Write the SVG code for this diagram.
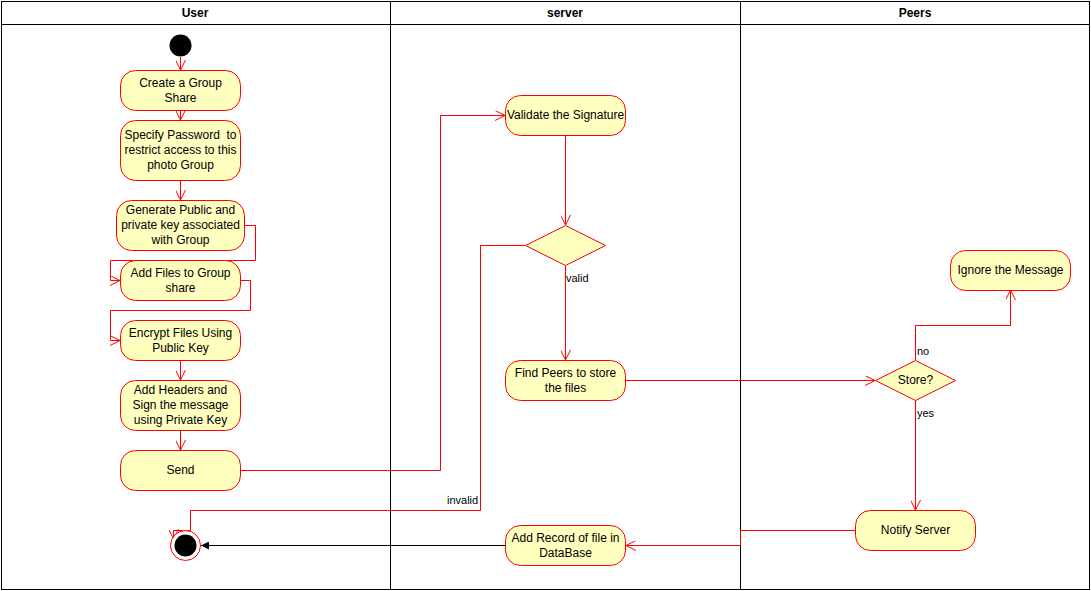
<svg xmlns="http://www.w3.org/2000/svg" width="1091" height="591" viewBox="0 0 1091 591">
  <style>
    .lane { fill: none; stroke: #000; stroke-width: 1; }
    .hdr { font-family: "Liberation Sans", Arial, sans-serif; font-size: 12px; font-weight: bold; fill: #000; text-anchor: middle; }
    .act { fill: #FFFFC0; stroke: #FF0000; stroke-width: 1; }
    .lbl { font-family: "Liberation Sans", Arial, sans-serif; font-size: 12px; fill: #000; text-anchor: middle; white-space: pre; }
    .elbl { font-family: "Liberation Sans", Arial, sans-serif; font-size: 11px; fill: #000; }
    .flow { fill: none; stroke: #FF0000; stroke-width: 1; marker-end: url(#open); }
    .flowk { fill: none; stroke: #000; stroke-width: 1; marker-end: url(#block); }
  </style>
  <defs>
    <marker id="open" viewBox="0 0 10 10" refX="10" refY="5" markerWidth="10" markerHeight="10" markerUnits="userSpaceOnUse" orient="auto">
      <path d="M0,0 L10,5 L0,10" fill="none" stroke="#FF0000" stroke-width="1"/>
    </marker>
    <marker id="block" viewBox="0 0 8 8" refX="8" refY="4" markerWidth="8" markerHeight="8" markerUnits="userSpaceOnUse" orient="auto">
      <path d="M0,0 L8,4 L0,8 Z" fill="#000"/>
    </marker>
  </defs>

  <rect width="1091" height="591" fill="#fff"/>

  <!-- swimlanes -->
  <g id="lanes">
    <rect class="lane" x="1.5" y="1.5" width="1088" height="588"/>
    <line class="lane" x1="1.5" y1="24.5" x2="1089.5" y2="24.5"/>
    <line class="lane" x1="390.5" y1="1.5" x2="390.5" y2="589.5"/>
    <line class="lane" x1="740.5" y1="1.5" x2="740.5" y2="589.5"/>
    <text class="hdr" x="195" y="17">User</text>
    <text class="hdr" x="565" y="17">server</text>
    <text class="hdr" x="915" y="17">Peers</text>
  </g>

  <!-- connectors -->
  <g id="connectors">
    <path class="flow" d="M180.5,57 V70"/>
    <path class="flow" d="M180.5,110 V120"/>
    <path class="flow" d="M180.5,180 V200"/>
    <path class="flow" d="M245,225.5 H255.5 V260.5 H110.5 V280.5 H120"/>
    <path class="flow" d="M240,280.5 H250.5 V310.5 H110.5 V340.5 H120"/>
    <path class="flow" d="M180.5,360 V380"/>
    <path class="flow" d="M180.5,430 V450"/>
    <path class="flow" d="M240,470.5 H440.5 V115.5 H505"/>
    <path class="flow" d="M565.5,135 V225"/>
    <path class="flow" d="M525,245.5 H480.5 V510.5 H190.5 V530.5 H173.5 V539"/>
    <path class="flow" d="M565.5,265 V360"/>
    <path class="flow" d="M625,380.5 H875"/>
    <path class="flow" d="M915.5,360 V325.5 H1010.5 V290"/>
    <path class="flow" d="M915.5,400 V510"/>
    <path class="flow" d="M855,530.5 H740.5 V545.5 H626"/>
    <path class="flowk" d="M505,545.5 H201"/>
    <text class="elbl" x="566" y="282">valid</text>
    <text class="elbl" x="447" y="504">invalid</text>
    <text class="elbl" x="917" y="355">no</text>
    <text class="elbl" x="917" y="417">yes</text>
  </g>

  <!-- user lane -->
  <g id="start">
    <circle cx="180.5" cy="45.5" r="11" fill="#000"/>
  </g>
  <g id="create-group">
    <rect class="act" x="120.5" y="70.5" width="120" height="40" rx="15"/>
    <text class="lbl" x="180.5" y="87">Create a Group</text>
    <text class="lbl" x="180.5" y="102">Share</text>
  </g>
  <g id="specify-password">
    <rect class="act" x="120.5" y="120.5" width="120" height="60" rx="15"/>
    <text class="lbl" x="180.5" y="139" xml:space="preserve">Specify Password  to</text>
    <text class="lbl" x="180.5" y="154">restrict access to this</text>
    <text class="lbl" x="180.5" y="169">photo Group</text>
  </g>
  <g id="generate-keys">
    <rect class="act" x="116.5" y="200.5" width="128" height="50" rx="15"/>
    <text class="lbl" x="180.5" y="214">Generate Public and</text>
    <text class="lbl" x="180.5" y="229">private key associated</text>
    <text class="lbl" x="180.5" y="244">with Group</text>
  </g>
  <g id="add-files">
    <rect class="act" x="120.5" y="260.5" width="120" height="40" rx="15"/>
    <text class="lbl" x="180.5" y="277">Add Files to Group</text>
    <text class="lbl" x="180.5" y="292">share</text>
  </g>
  <g id="encrypt-files">
    <rect class="act" x="120.5" y="320.5" width="120" height="40" rx="15"/>
    <text class="lbl" x="180.5" y="337">Encrypt Files Using</text>
    <text class="lbl" x="180.5" y="352">Public Key</text>
  </g>
  <g id="sign-message">
    <rect class="act" x="120.5" y="380.5" width="120" height="50" rx="15"/>
    <text class="lbl" x="180.5" y="394">Add Headers and</text>
    <text class="lbl" x="180.5" y="409">Sign the message</text>
    <text class="lbl" x="180.5" y="424">using Private Key</text>
  </g>
  <g id="send">
    <rect class="act" x="120.5" y="450.5" width="120" height="40" rx="15"/>
    <text class="lbl" x="180.5" y="474">Send</text>
  </g>
  <g id="end">
    <circle cx="185.5" cy="545.5" r="15" fill="#fff" stroke="#FF0000" stroke-width="1"/>
    <circle cx="185.5" cy="545.5" r="11" fill="#000"/>
  </g>

  <!-- server lane -->
  <g id="validate-signature">
    <rect class="act" x="505.5" y="95.5" width="120" height="40" rx="15"/>
    <text class="lbl" x="565.5" y="119">Validate the Signature</text>
  </g>
  <g id="signature-check">
    <polygon class="act" points="565.5,225.5 605.5,245.5 565.5,265.5 525.5,245.5"/>
  </g>
  <g id="find-peers">
    <rect class="act" x="505.5" y="360.5" width="120" height="40" rx="15"/>
    <text class="lbl" x="565.5" y="377">Find Peers to store</text>
    <text class="lbl" x="565.5" y="392">the files</text>
  </g>
  <g id="add-record">
    <rect class="act" x="505.5" y="525.5" width="120" height="40" rx="15"/>
    <text class="lbl" x="565.5" y="542">Add Record of file in</text>
    <text class="lbl" x="565.5" y="557">DataBase</text>
  </g>

  <!-- peers lane -->
  <g id="ignore-message">
    <rect class="act" x="950.5" y="250.5" width="120" height="40" rx="15"/>
    <text class="lbl" x="1010.5" y="274">Ignore the Message</text>
  </g>
  <g id="store-decision">
    <polygon class="act" points="915.5,360.5 955.5,380.5 915.5,400.5 875.5,380.5"/>
    <text class="lbl" x="915.5" y="384">Store?</text>
  </g>
  <g id="notify-server">
    <rect class="act" x="855.5" y="510.5" width="120" height="40" rx="15"/>
    <text class="lbl" x="915.5" y="534">Notify Server</text>
  </g>
</svg>
